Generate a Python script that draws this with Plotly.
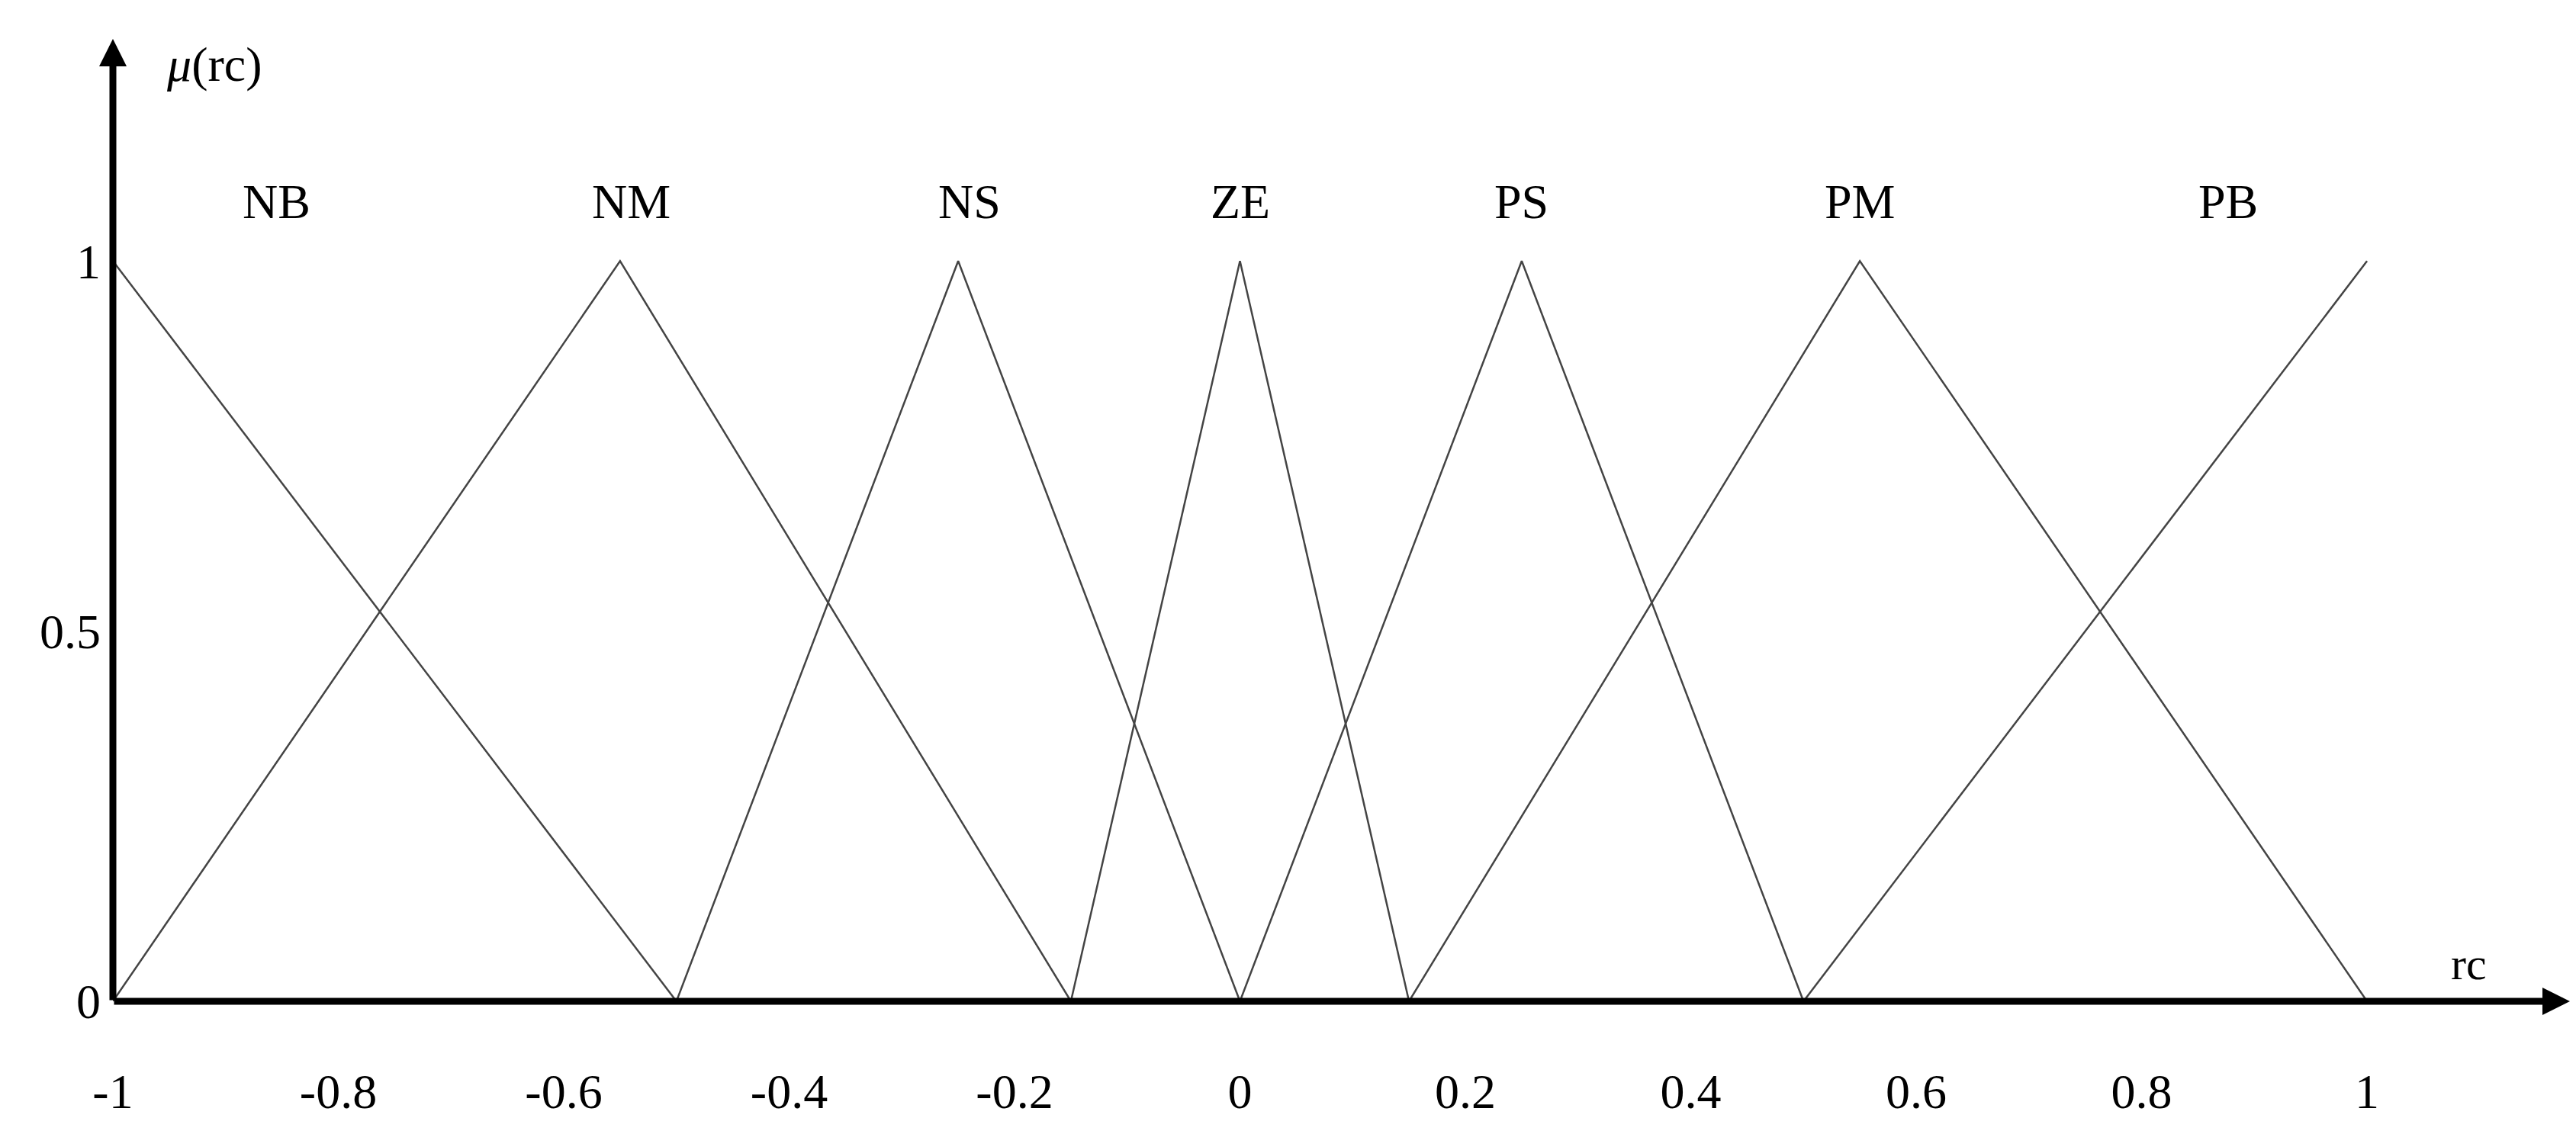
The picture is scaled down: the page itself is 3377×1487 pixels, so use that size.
import plotly.graph_objects as go

sets = ["NB", "NM", "NS", "ZE", "PS", "PM", "PB"]
xs = [[-1, -1, -0.5], [-1, -0.55, -0.15], [-0.5, -0.25, 0], [-0.15, 0, 0.15],
      [0, 0.25, 0.5], [0.15, 0.55, 1], [0.5, 1, 1]]
ys = [[1, 1, 0], [0, 1, 0], [0, 1, 0], [0, 1, 0], [0, 1, 0], [0, 1, 0], [0, 1, 1]]
label_x = [-0.855, -0.54, -0.24, 0, 0.25, 0.55, 0.877]
label_y = 1.08
xticks = [-1, -0.8, -0.6, -0.4, -0.2, 0, 0.2, 0.4, 0.6, 0.8, 1]
yticks = [0, 0.5, 1]

font = "Liberation Serif"
fig = go.Figure()
for name, x, y in zip(sets, xs, ys):
    # NB starts at peak (x=-1,y=1); PB ends at peak
    if name == "NB":
        x, y = x[1:], y[1:]
    if name == "PB":
        x, y = x[:2], y[:2]
    fig.add_trace(go.Scatter(x=x, y=y, mode="lines", name=name,
                             line=dict(color="#444444", width=2.5), showlegend=False))

for name, lx in zip(sets, label_x):
    fig.add_annotation(x=lx, y=label_y, text=name, showarrow=False,
                       font=dict(family=font, size=64, color="black"))

# axes arrows
fig.add_annotation(x=1.18, y=0, ax=-1, ay=0, axref="x", ayref="y", xref="x", yref="y",
                   showarrow=True, arrowhead=2, arrowsize=0.8, arrowwidth=9, arrowcolor="black", text="")
fig.add_annotation(x=-1, y=1.3, ax=-1, ay=0, axref="x", ayref="y", xref="x", yref="y",
                   showarrow=True, arrowhead=2, arrowsize=0.8, arrowwidth=9, arrowcolor="black", text="")
fig.add_annotation(x=1.09, y=0.05, text="rc", showarrow=False,
                   font=dict(family=font, size=60, color="black"))
fig.add_annotation(x=-0.91, y=1.265, text="<i>μ</i>(rc)", showarrow=False,
                   font=dict(family=font, size=64, color="black"))

fig.update_layout(
    width=3377, height=1487, plot_bgcolor="white", paper_bgcolor="white",
    margin=dict(l=140, r=16, t=43, b=182),
    xaxis=dict(range=[-1, 1.18], showgrid=False, zeroline=False, showline=False,
               tickvals=xticks, ticktext=[f"{v:g}" for v in xticks], ticks="",
               ticklabelstandoff=75, tickfont=dict(family=font, size=64, color="black")),
    yaxis=dict(range=[0, 1.3], showgrid=False, zeroline=False, showline=False,
               tickvals=yticks, ticktext=[f"{v:g}" for v in yticks], ticks="",
               ticklabelstandoff=15, tickfont=dict(family=font, size=64, color="black")),
)
fig.write_html("out.html")
